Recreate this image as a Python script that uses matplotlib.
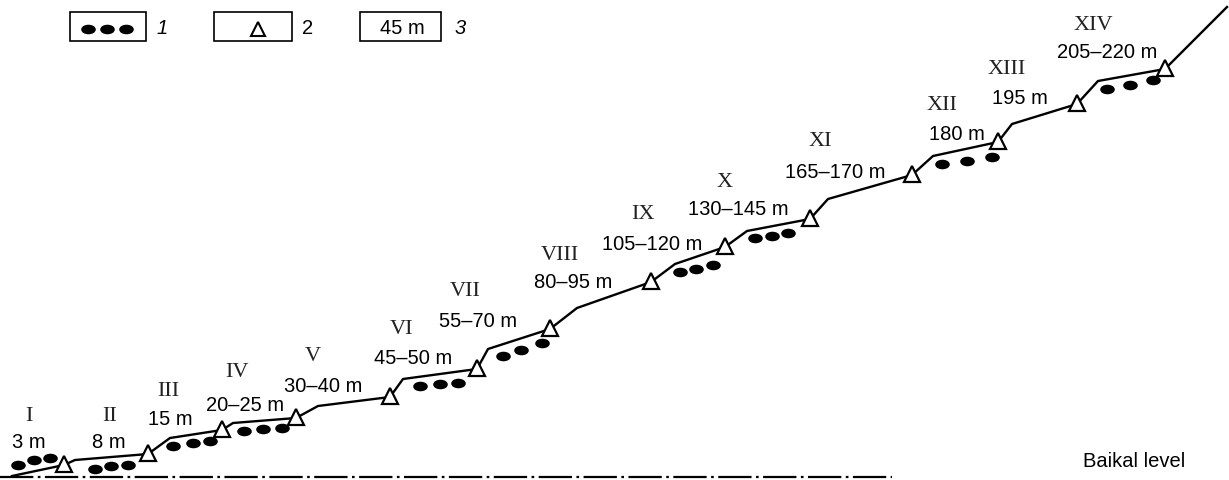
import matplotlib
matplotlib.use("Agg")
import matplotlib.pyplot as plt
from matplotlib.patches import Rectangle
from matplotlib.path import Path
from matplotlib.transforms import Affine2D

# drawing units = pixels of the original sketch (y grows downward)
SANS = ["Liberation Sans", "DejaVu Sans"]
SERIF = ["Liberation Serif", "DejaVu Serif"]

# terraces
roman = ["I", "II", "III", "IV", "V", "VI", "VII", "VIII", "IX", "X",
         "XI", "XII", "XIII", "XIV"]
heights = ["3 m", "8 m", "15 m", "20–25 m", "30–40 m", "45–50 m", "55–70 m",
           "80–95 m", "105–120 m", "130–145 m", "165–170 m", "180 m",
           "195 m", "205–220 m"]
roman_x = [29, 110, 168, 237, 313, 402, 465, 560, 643, 725, 820, 942, 1007, 1093]
roman_y = [417, 417, 392, 373, 357, 330, 292, 255, 215, 183, 142, 105, 70, 25]
height_x = [29, 109, 170, 245, 323, 413, 478, 573, 652, 738, 835, 957, 1020, 1107]
height_y = [443, 443, 420, 406, 387, 359, 322, 283, 245, 210, 173, 135, 98, 53]

# slope profile (vertices)
profile_x = [12, 64, 75, 148, 170, 222, 233, 296, 318, 390, 403, 477, 488, 550,
             577, 651, 675, 725, 747, 810, 828, 912, 933, 998, 1012, 1077,
             1098, 1165, 1227]
profile_y = [477, 466, 461, 455, 439, 431, 424, 419, 407, 398, 380, 370, 350, 330,
             309, 283, 265, 248, 232, 220, 200, 176, 157, 143, 125, 105,
             82, 70, 8]
# terrace rear edges (triangles) are every other profile vertex
tri_idx = [1, 3, 5, 7, 9, 11, 13, 15, 17, 19, 21, 23, 25, 27]

# pebble deposits
dot_x = [18, 34, 50, 95, 111, 128, 173, 193, 210, 244, 263, 282,
         420, 440, 458, 503, 521, 542, 680, 696, 713, 755, 772, 788,
         942, 967, 992, 1107, 1130, 1153]
dot_y = [466, 461, 459, 470, 467, 466, 447, 444, 442, 432, 430, 429,
         387, 385, 384, 357, 351, 344, 273, 270, 266, 239, 237, 234,
         165, 162, 158, 90, 86, 81]

# Baikal level line
level_x = [0, 892]
level_y = [478, 478]

fig = plt.figure(figsize=(12.29, 4.81), dpi=100)
ax = fig.add_axes([0, 0, 1, 1])
ax.set_xlim(0, 1229)
ax.set_ylim(481, 0)
ax.axis("off")

ellipse = Path.unit_circle().transformed(Affine2D().scale(1.0, 0.62))

ax.plot(level_x, level_y, color="black", lw=1.6, dashes=(15, 2, 1.2, 2))
ax.plot(profile_x, profile_y, color="black", lw=1.7, zorder=2)
ax.plot([profile_x[i] for i in tri_idx], [profile_y[i] - 1 for i in tri_idx],
        ls="none", marker="^", ms=11, mfc="white", mec="black", mew=1.6, zorder=3)
ax.scatter(dot_x, dot_y, s=90, marker=ellipse, color="black", zorder=3)

for r, h, rx, ry, hx, hy in zip(roman, heights, roman_x, roman_y, height_x, height_y):
    ax.text(rx, ry, r, family=SERIF, fontsize=16, color="#222222",
            ha="center", va="center")
    ax.text(hx, hy, h, family=SANS, fontsize=14.5, ha="center", va="center")

ax.text(1134, 462, "Baikal level", family=SANS, fontsize=14.5,
        ha="center", va="center")

# legend boxes
for x0, x1 in [(70, 146), (214, 292), (360, 441)]:
    ax.add_patch(Rectangle((x0, 13), x1 - x0, 29, fill=False, ec="black", lw=1.2))
ax.scatter([88, 107, 126], [30, 30, 30], s=90, marker=ellipse, color="black")
ax.plot([258], [30], ls="none", marker="^", ms=10, mfc="white", mec="black", mew=1.5)
ax.text(402, 28, "45 m", family=SANS, fontsize=14.5, ha="center", va="center")
ax.text(162, 28, "1", family=SANS, style="italic", fontsize=14.5, ha="center", va="center")
ax.text(308, 28, "2", family=SANS, fontsize=14.5, ha="center", va="center")
ax.text(460, 28, "3", family=SANS, style="italic", fontsize=14.5, ha="center", va="center")

fig.savefig("out.png", dpi=100)
